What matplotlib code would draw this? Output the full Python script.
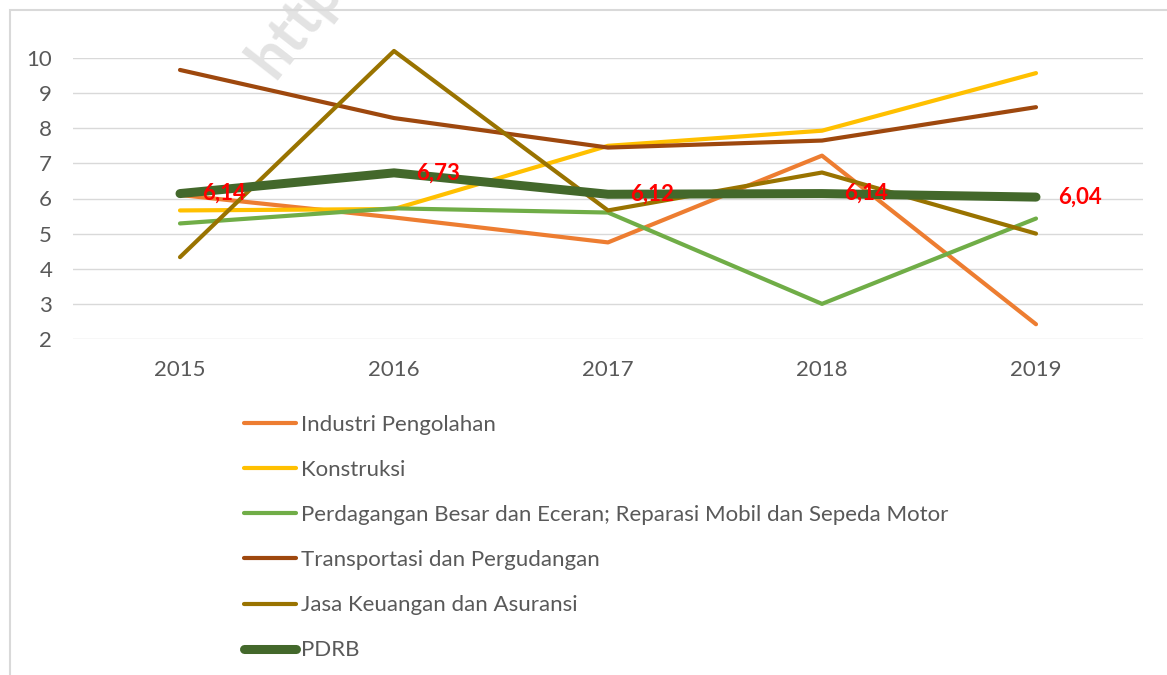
import matplotlib.pyplot as plt
from matplotlib.patches import Rectangle

# data
years = ['2015', '2016', '2017', '2018', '2019']
industri = [6.10, 5.46, 4.75, 7.22, 2.42]
konstruksi = [5.66, 5.70, 7.50, 7.93, 9.57]
perdagangan = [5.29, 5.72, 5.60, 3.00, 5.43]
transportasi = [9.66, 8.29, 7.45, 7.65, 8.60]
jasa = [4.33, 10.20, 5.66, 6.74, 5.00]
pdrb = [6.14, 6.73, 6.12, 6.14, 6.04]
pdrb_labels = ['6,14', '6,73', '6,12', '6,14', '6,04']

series = [
    ('Industri Pengolahan', industri, '#ED7D31', 3),
    ('Konstruksi', konstruksi, '#FFC000', 3),
    ('Perdagangan Besar dan Eceran; Reparasi Mobil dan Sepeda Motor', perdagangan, '#70AD47', 3),
    ('Transportasi dan Pergudangan', transportasi, '#9E480E', 3),
    ('Jasa Keuangan dan Asuransi', jasa, '#997300', 3),
    ('PDRB', pdrb, '#43682B', 6.5),
]

plt.rcParams['font.family'] = ['Lato', 'DejaVu Sans']

W, H = 1167, 675
fig = plt.figure(figsize=(W / 100, H / 100), dpi=100)
ax = fig.add_axes([73 / W, 1 - 339 / H, (1143 - 73) / W, (339 - 58) / H])

# faint watermark behind the chart (cut by the top edge, as in the source)
fig.text(295 / W, 1 - 25 / H, 'http', rotation=52, fontsize=44, fontweight='bold',
         color='#e3e3e3', ha='center', va='center', zorder=0)

x = list(range(len(years)))
for name, vals, col, lw in series:
    ax.plot(x, vals, color=col, lw=lw, label=name, solid_capstyle='round',
            solid_joinstyle='round', clip_on=False, zorder=3)

for xi, v, t in zip(x, pdrb, pdrb_labels):
    ax.annotate(t, (xi, v), xytext=(16, 0), textcoords='offset points',
                color='#FF0000', fontweight='bold', fontsize=16, va='center', zorder=5)

ax.set_xlim(-0.5, 4.5)
ax.set_ylim(2, 10)
ax.set_yticks(range(2, 11))
ax.set_xticks(x)
ax.set_xticklabels(years)
ax.grid(axis='y', color='#d9d9d9', lw=1)
ax.set_axisbelow(True)
for s in ax.spines.values():
    s.set_visible(False)
ax.tick_params(length=0, labelsize=16, labelcolor='#595959')
ax.tick_params(axis='x', pad=15)
ax.tick_params(axis='y', pad=15)
ax.patch.set_alpha(0)

leg = fig.legend(loc='upper left', bbox_to_anchor=(235 / W, 1 - 406 / H), ncol=1,
                 frameon=False, fontsize=16, handlelength=2.35, handletextpad=0.22,
                 labelspacing=1.13, borderaxespad=0)
for t in leg.get_texts():
    t.set_color('#595959')

# light chart border (left and top edges visible)
fig.patches.append(Rectangle((10 / W, -0.1), 1.2, 1 - 10 / H + 0.1, transform=fig.transFigure,
                             fill=False, edgecolor='#d9d9d9', lw=1.5))

fig.savefig('out.png', dpi=100)
